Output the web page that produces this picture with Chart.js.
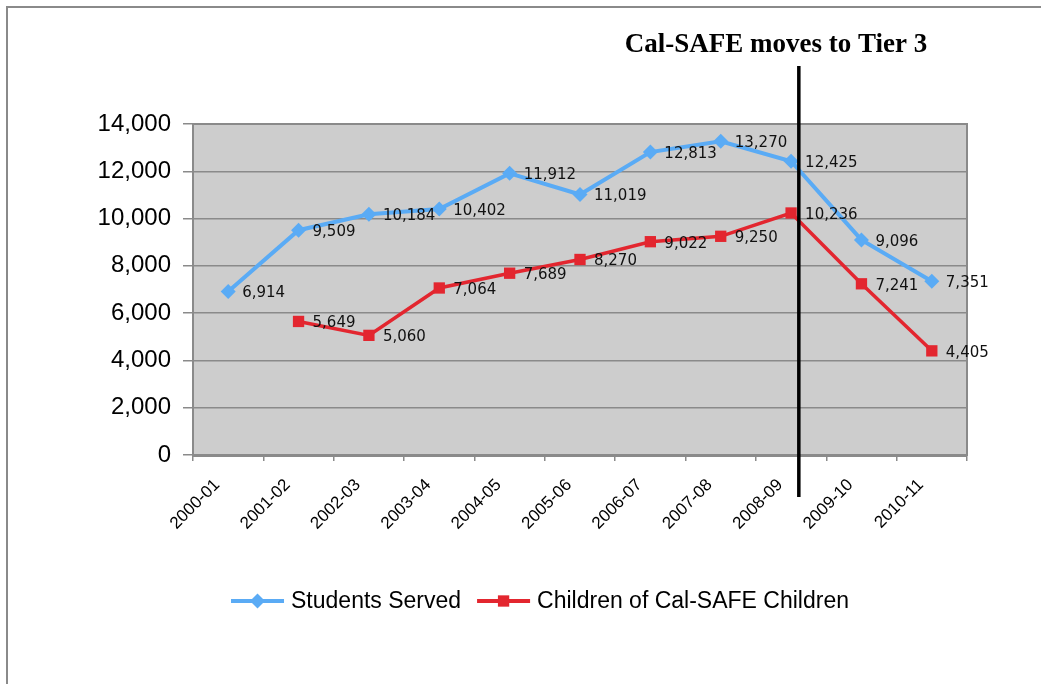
<!DOCTYPE html>
<html>
<head>
<meta charset="utf-8">
<script src="https://cdn.jsdelivr.net/npm/chart.js@4.4.1/dist/chart.umd.min.js"></script>
<style>
  html, body { margin: 0; padding: 0; background: #fff; }
  #wrap { width: 1041px; height: 684px; }
</style>
</head>
<body>
<div id="wrap"><canvas id="chart" width="1041" height="684"></canvas></div>
<script>
// Data
const years = ['2000-01', '2001-02', '2002-03', '2003-04', '2004-05', '2005-06',
               '2006-07', '2007-08', '2008-09', '2009-10', '2010-11'];
const studentsServed = [6914, 9509, 10184, 10402, 11912, 11019, 12813, 13270, 12425, 9096, 7351];
const childrenOfCalSafe = [null, 5649, 5060, 7064, 7689, 8270, 9022, 9250, 10236, 7241, 4405];
const yTicks = [0, 2000, 4000, 6000, 8000, 10000, 12000, 14000];
const tierNote = 'Cal-SAFE moves to Tier 3';
const tierYear = '2008-09';

const BLUE = '#5aabf5';
const RED = '#e3262f';
const fmt = v => v.toLocaleString('en-US');

// Background, outer frame and plot-area fill
const backdrop = {
  id: 'backdrop',
  beforeDraw(chart) {
    const { ctx, chartArea: a } = chart;
    ctx.save();
    ctx.fillStyle = '#fff';
    ctx.fillRect(0, 0, chart.width, chart.height);
    ctx.strokeStyle = '#8a8a8a';
    ctx.lineWidth = 2;
    ctx.beginPath();
    ctx.moveTo(7, chart.height);
    ctx.lineTo(7, 7);
    ctx.lineTo(chart.width, 7);
    ctx.stroke();
    ctx.fillStyle = '#cdcdcd';
    ctx.fillRect(a.left, a.top, a.right - a.left, a.bottom - a.top);
    ctx.restore();
  },
  beforeDatasetsDraw(chart) {
    const { ctx, chartArea: a } = chart;
    ctx.save();
    ctx.strokeStyle = '#8a8a8a';
    ctx.lineWidth = 2;
    ctx.strokeRect(a.left, a.top, a.right - a.left, a.bottom - a.top);
    ctx.restore();
  }
};

function drawMarker(ctx, style, x, y, r, color) {
  ctx.fillStyle = color;
  ctx.beginPath();
  if (style === 'rectRot') {
    ctx.moveTo(x, y - r); ctx.lineTo(x + r, y); ctx.lineTo(x, y + r); ctx.lineTo(x - r, y);
  } else {
    const s = r * Math.SQRT1_2;
    ctx.rect(x - s, y - s, 2 * s, 2 * s);
  }
  ctx.closePath();
  ctx.fill();
}

// Value labels, Tier 3 line, note and legend
const extras = {
  id: 'extras',
  afterDatasetsDraw(chart) {
    const { ctx, scales: { x } } = chart;
    ctx.save();

    // value labels
    ctx.font = '15px "DejaVu Sans"';
    ctx.fillStyle = '#111';
    ctx.textAlign = 'left';
    ctx.textBaseline = 'middle';
    chart.data.datasets.forEach((ds, i) => {
      chart.getDatasetMeta(i).data.forEach((pt, j) => {
        if (ds.data[j] == null) return;
        ctx.fillText(fmt(ds.data[j]), pt.x + 14, pt.y + 2);
      });
    });

    // Tier 3 divider
    const idx = years.indexOf(tierYear);
    const x0 = x.getPixelForValue(idx);
    const x1 = x.getPixelForValue(idx + 1);
    const lx = x0 + (x1 - x0) * 0.11;
    ctx.strokeStyle = '#000';
    ctx.lineWidth = 3.5;
    ctx.beginPath();
    ctx.moveTo(lx, 66);
    ctx.lineTo(lx, 497);
    ctx.stroke();

    ctx.font = 'bold 27px "Liberation Serif"';
    ctx.textAlign = 'center';
    ctx.fillStyle = '#000';
    ctx.fillText(tierNote, 776, 45);

    // legend
    ctx.font = '23px "Liberation Sans"';
    ctx.textAlign = 'left';
    const items = chart.data.datasets.map(ds => ({
      label: ds.label, color: ds.borderColor, style: ds.pointStyle, r: ds.pointRadius,
      w: ctx.measureText(ds.label).width
    }));
    const sym = 53, gap1 = 7, gap2 = 16;
    const total = items.reduce((s, it) => s + sym + gap1 + it.w, 0) + gap2 * (items.length - 1);
    let cx = 540 - total / 2;
    const ly = 601;
    items.forEach(it => {
      ctx.strokeStyle = it.color;
      ctx.lineWidth = 4;
      ctx.beginPath();
      ctx.moveTo(cx, ly);
      ctx.lineTo(cx + sym, ly);
      ctx.stroke();
      drawMarker(ctx, it.style, cx + sym / 2, ly, it.r, it.color);
      ctx.fillStyle = '#000';
      ctx.fillText(it.label, cx + sym + gap1, ly + 1);
      cx += sym + gap1 + it.w + gap2;
    });

    ctx.restore();
  }
};

const chart = new Chart(document.getElementById('chart'), {
  type: 'line',
  data: {
    labels: years,
    datasets: [
      {
        label: 'Students Served',
        data: studentsServed,
        borderColor: BLUE,
        backgroundColor: BLUE,
        borderWidth: 4,
        pointStyle: 'rectRot',
        pointRadius: 7.5,
        pointBorderWidth: 0,
        tension: 0
      },
      {
        label: 'Children of Cal-SAFE Children',
        data: childrenOfCalSafe,
        borderColor: RED,
        backgroundColor: RED,
        borderWidth: 3.5,
        pointStyle: 'rect',
        pointRadius: 8,
        pointBorderWidth: 0,
        tension: 0
      }
    ]
  },
  options: {
    responsive: false,
    animation: false,
    devicePixelRatio: 1,
    layout: { padding: { left: 0, right: 74, top: 124, bottom: 0 } },
    plugins: {
      legend: { display: false },
      title: { display: false },
      tooltip: { enabled: false }
    },
    scales: {
      x: {
        offset: true,
        afterFit: s => { s.height = 229; },
        grid: {
          offset: true,
          drawOnChartArea: false,
          drawTicks: true,
          tickLength: 6,
          color: '#8a8a8a',
          lineWidth: 1.5
        },
        border: { color: '#8a8a8a', width: 3 },
        ticks: {
          maxRotation: 45,
          minRotation: 45,
          autoSkip: false,
          padding: 14,
          labelOffset: -11,
          color: '#000',
          font: { family: 'Liberation Sans', size: 17 }
        }
      },
      y: {
        min: 0,
        max: 14000,
        afterFit: s => { s.width = 193; },
        afterBuildTicks: s => { s.ticks = yTicks.map(v => ({ value: v })); },
        grid: {
          color: '#8a8a8a',
          lineWidth: 1.5,
          tickLength: 10
        },
        border: { color: '#8a8a8a', width: 2 },
        ticks: {
          padding: 12,
          color: '#000',
          font: { family: 'Liberation Sans', size: 24 },
          callback: v => fmt(v)
        }
      }
    }
  },
  plugins: [backdrop, extras]
});
</script>
</body>
</html>
